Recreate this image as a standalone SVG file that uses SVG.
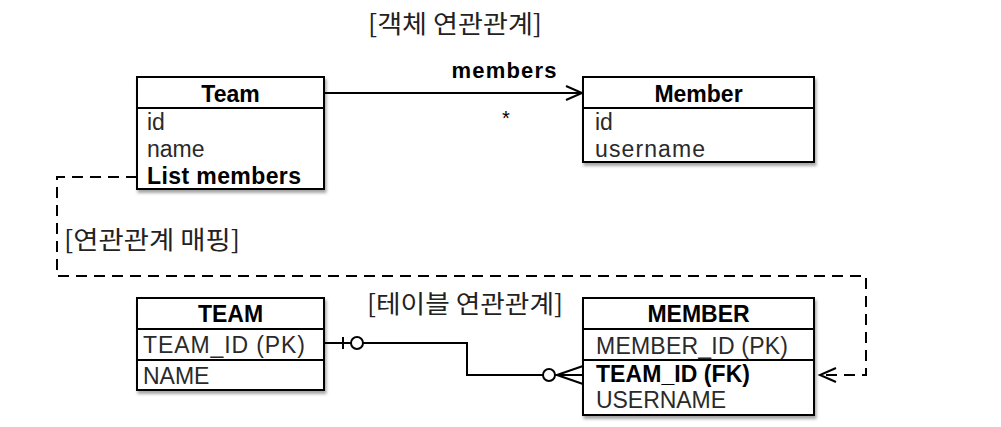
<svg xmlns="http://www.w3.org/2000/svg" width="1001" height="427" viewBox="0 0 1001 427">
<defs>
<filter id="sh" x="-10%" y="-10%" width="130%" height="140%">
<feDropShadow dx="1.5" dy="3" stdDeviation="1.8" flood-color="#000" flood-opacity="0.35"/>
</filter>
<marker id="open" markerWidth="20" markerHeight="16" refX="17" refY="8" orient="auto" markerUnits="userSpaceOnUse">
<path d="M1,1 L17,8 L1,15" fill="none" stroke="#000" stroke-width="2"/>
</marker>
</defs>
<style>
text{font-family:"Liberation Sans","Noto Sans CJK KR",sans-serif;}
.box{fill:#fff;stroke:#000;stroke-width:2;}
.ln{stroke:#000;stroke-width:2;fill:none;}
.hd{font-size:23px;font-weight:bold;fill:#000;text-anchor:middle;}
.bd{font-size:23px;fill:#2a2a2a;}
.bb{font-size:23px;fill:#000;font-weight:bold;}
.lbl{font-size:25px;fill:#222;font-family:"Noto Sans CJK KR","Liberation Sans",sans-serif;}
.dash{stroke:#000;stroke-width:2;fill:none;stroke-dasharray:11,7;}
</style>
<text class="lbl" x="368" y="33" textLength="174" lengthAdjust="spacingAndGlyphs">[객체 연관관계]</text>
<g id="connectors">
<line class="ln" x1="324" y1="93" x2="582" y2="93" marker-end="url(#open)"/>
<text x="504" y="78" style="font-size:22px;font-weight:bold;text-anchor:middle" textLength="105">members</text>
<text x="506" y="125" style="font-size:20px;text-anchor:middle">*</text>
<path class="dash" d="M137,177 H57 V276 H866 V375 H820" marker-end="url(#open)"/>
<text class="lbl" x="64" y="249" textLength="176" lengthAdjust="spacingAndGlyphs">[연관관계 매핑]</text>
<text class="lbl" x="367" y="313" textLength="196" lengthAdjust="spacingAndGlyphs">[테이블 연관관계]</text>
<path class="ln" d="M324,343 H351"/>
<line class="ln" x1="343" y1="337" x2="343" y2="349"/>
<circle class="ln" cx="357" cy="343" r="6"/>
<path class="ln" d="M363,343 H467 V375 H543"/>
<circle class="ln" cx="549" cy="375" r="6"/>
<path class="ln" d="M555,375 H583 M557,375 L583,366 M557,375 L583,384"/>
</g>
<g id="Team">
<rect class="box" x="137" y="77" width="187" height="112" filter="url(#sh)"/>
<line class="ln" x1="137" y1="108" x2="324" y2="108"/>
<text class="hd" x="230.5" y="102">Team</text>
<text class="bd" x="147" y="130">id</text>
<text class="bd" x="147" y="157">name</text>
<text class="bb" x="147" y="184" textLength="154">List members</text>
</g>
<g id="Member">
<rect class="box" x="583" y="77" width="231" height="85" filter="url(#sh)"/>
<line class="ln" x1="583" y1="108" x2="814" y2="108"/>
<text class="hd" x="698.5" y="102">Member</text>
<text class="bd" x="595" y="130">id</text>
<text class="bd" x="595" y="157" textLength="110">username</text>
</g>
<g id="TEAM">
<rect class="box" x="137" y="298" width="187" height="92" filter="url(#sh)"/>
<line class="ln" x1="137" y1="329" x2="324" y2="329"/>
<line class="ln" x1="137" y1="360" x2="324" y2="360"/>
<text class="hd" x="230.5" y="322">TEAM</text>
<text class="bd" x="143" y="353" textLength="162">TEAM_ID (PK)</text>
<text class="bd" x="143" y="384">NAME</text>
</g>
<g id="MEMBER">
<rect class="box" x="583" y="298" width="231" height="117" filter="url(#sh)"/>
<line class="ln" x1="583" y1="329" x2="814" y2="329"/>
<line class="ln" x1="583" y1="360" x2="814" y2="360"/>
<text class="hd" x="698.5" y="322">MEMBER</text>
<text class="bd" x="596" y="354" textLength="192">MEMBER_ID (PK)</text>
<text class="bb" x="596" y="382" textLength="154">TEAM_ID (FK)</text>
<text class="bd" x="596" y="408" textLength="130">USERNAME</text>
</g>
</svg>
